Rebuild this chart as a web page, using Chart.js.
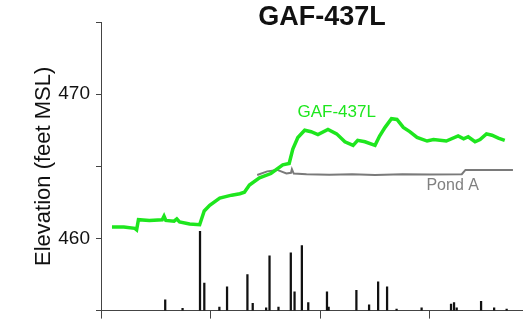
<!DOCTYPE html>
<html><head><meta charset="utf-8">
<script src="https://cdn.jsdelivr.net/npm/chart.js@4"></script>
<style>html,body{margin:0;padding:0;background:#fff;overflow:hidden}#wrap{width:523px;height:328px;position:relative}</style>
</head><body><div id="wrap"><canvas id="c"></canvas></div>
<script>
const chartTitle = 'GAF-437L';
const yAxisTitle = 'Elevation (feet MSL)';
const wellName = 'GAF-437L';
const pondName = 'Pond A';
const yTickLabels = [460, 470];
const xTickMonths = [0, 12, 24, 36];

// months since start of record
const gafMonths = [1.2, 2.5, 3.7, 3.9, 4.1, 5.3, 6.7, 6.9, 7.1, 8.0, 8.3, 8.6, 9.7, 10.8, 11.3, 11.9, 13.0, 14.3, 15.2, 15.7, 16.25, 17.35, 18.6, 19.9, 20.6, 21.0, 21.55, 22.3, 23.0, 23.75, 24.85, 25.8, 26.7, 27.6, 28.1, 28.9, 30.0, 30.5, 31.1, 31.8, 32.4, 33.1, 33.8, 34.6, 35.7, 36.4, 37.8, 39.1, 39.7, 40.2, 40.95, 41.5, 42.2, 42.8, 43.5, 44.2];
const gafElev = [460.8, 460.8, 460.7, 460.6, 461.3, 461.25, 461.3, 461.55, 461.25, 461.2, 461.35, 461.15, 461.0, 460.95, 461.9, 462.3, 462.8, 463.0, 463.1, 463.2, 463.7, 464.2, 464.5, 465.1, 465.2, 466.2, 467.0, 467.5, 467.4, 467.2, 467.55, 467.25, 466.7, 466.45, 466.8, 466.7, 466.45, 467.1, 467.7, 468.3, 468.25, 467.7, 467.4, 467.0, 466.75, 466.85, 466.75, 467.1, 466.9, 467.05, 466.7, 466.85, 467.25, 467.15, 466.95, 466.8];

const pondMonths = [17.1, 18.2, 19.3, 20.3, 20.8, 20.9, 21.1, 22.5, 25.0, 27.5, 30.0, 33.0, 36.0, 39.5, 39.9, 45.1];
const pondElev = [464.4, 464.65, 464.75, 464.5, 464.55, 464.8, 464.5, 464.45, 464.42, 464.45, 464.4, 464.45, 464.43, 464.45, 464.75, 464.75];

const rainMonths = [7.03, 8.93, 10.84, 11.31, 12.96, 13.8, 16.03, 16.61, 18.08, 18.45, 19.43, 20.78, 21.19, 21.99, 22.69, 24.74, 24.92, 27.96, 29.35, 30.34, 31.32, 32.36, 35.1, 38.32, 38.65, 38.94, 41.61, 43.04, 44.41];
const rainInches = [0.15, 0.03, 1.10, 0.38, 0.05, 0.33, 0.50, 0.10, 0.04, 0.76, 0.05, 0.80, 0.26, 0.90, 0.11, 0.26, 0.05, 0.28, 0.08, 0.40, 0.33, 0.02, 0.04, 0.09, 0.11, 0.04, 0.13, 0.04, 0.02];

const wellLabelAt = [25.8, 468.77];
const pondLabelAt = [38.5, 463.63];

const FONT = "'Liberation Sans', Arial, sans-serif";

const textPlugin = {
  id: 'texts',
  afterDraw(chart) {
    const {ctx, chartArea, scales} = chart;
    ctx.save();
    ctx.textAlign = 'center';
    ctx.textBaseline = 'middle';
    ctx.fillStyle = '#111';
    ctx.font = "bold 27px " + FONT;
    ctx.fillText(chartTitle, (chartArea.left + chartArea.right) / 2 + 10, 18);
    ctx.font = "17px " + FONT;
    ctx.fillStyle = '#1ee61e';
    ctx.fillText(wellName, scales.x.getPixelForValue(wellLabelAt[0]), scales.y.getPixelForValue(wellLabelAt[1]));
    ctx.font = "16px " + FONT;
    ctx.fillStyle = '#808080';
    ctx.fillText(pondName, scales.x.getPixelForValue(pondLabelAt[0]), scales.y.getPixelForValue(pondLabelAt[1]));
    ctx.restore();
  }
};

new Chart(document.getElementById('c'), {
  type: 'line',
  data: {
    datasets: [
      {
        type: 'line', label: pondName,
        data: pondMonths.map((m, i) => ({x: m, y: pondElev[i]})),
        borderColor: '#7a7a7a', borderWidth: 2, pointRadius: 0, tension: 0, yAxisID: 'y', order: 2
      },
      {
        type: 'line', label: wellName,
        data: gafMonths.map((m, i) => ({x: m, y: gafElev[i]})),
        borderColor: '#1ee61e', borderWidth: 3.5, pointRadius: 0, tension: 0, yAxisID: 'y', order: 1
      },
      {
        type: 'bar', label: 'Precipitation',
        data: rainMonths.map((m, i) => ({x: m, y: rainInches[i]})),
        backgroundColor: '#111', borderWidth: 0, barThickness: 1.6, grouped: false, yAxisID: 'yr', order: 3
      }
    ]
  },
  options: {
    responsive: true, maintainAspectRatio: false, animation: false,
    layout: {padding: {top: 22, right: 0, bottom: 0, left: 0}},
    plugins: {legend: {display: false}, title: {display: false}, tooltip: {enabled: false}},
    scales: {
      x: {
        type: 'linear', min: 0, max: 46.2, offset: false,
        afterBuildTicks: s => { s.ticks = xTickMonths.map(v => ({value: v})); },
        ticks: {display: false},
        grid: {drawOnChartArea: false, drawTicks: true, tickLength: 8, color: '#444', lineWidth: 1, offset: false},
        border: {display: true, color: '#444', width: 1},
        afterFit: s => { s.height = 14; }
      },
      y: {
        type: 'linear', position: 'left', min: 455, max: 475,
        ticks: {stepSize: 5, padding: 6, color: '#111', font: {family: FONT, size: 19},
          callback: v => yTickLabels.includes(v) ? String(v) : ''},
        grid: {drawOnChartArea: false, drawTicks: true, tickLength: 5, color: '#444'},
        border: {display: true, color: '#444', width: 1},
        title: {display: true, text: yAxisTitle, color: '#111', font: {family: FONT, size: 22}, padding: {top: 31, bottom: 0}},
        afterFit: s => { s.width = 101; }
      },
      yr: {type: 'linear', display: false, min: 0, max: 4}
    }
  },
  plugins: [textPlugin]
});
</script></body></html>
